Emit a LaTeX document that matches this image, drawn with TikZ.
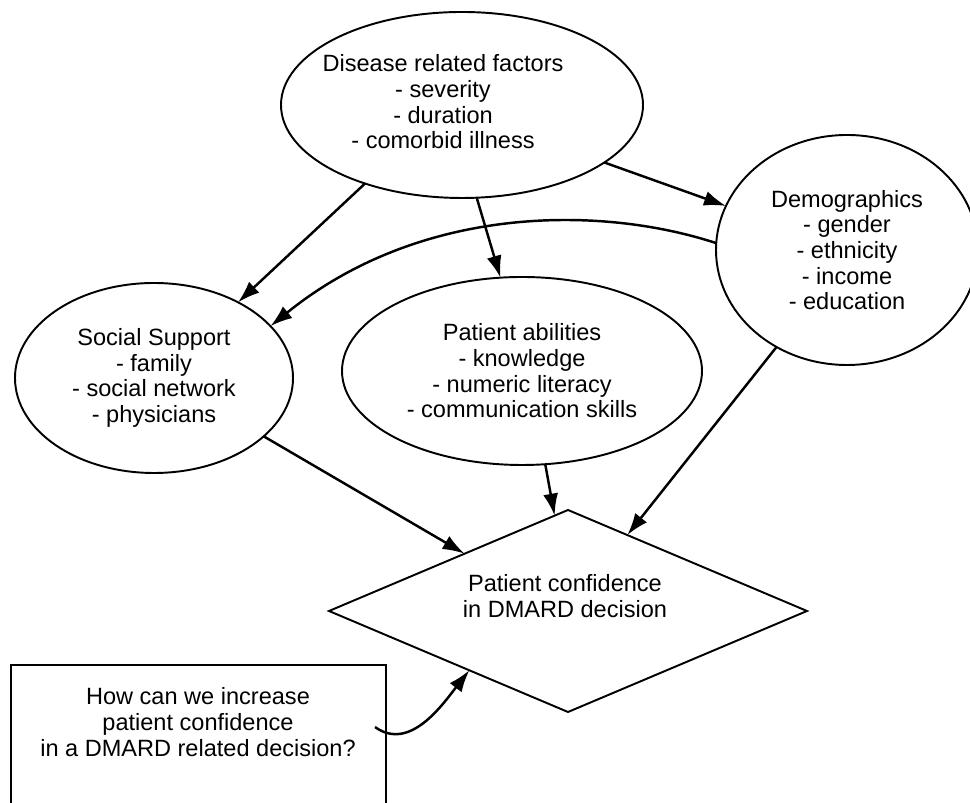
\documentclass[tikz,border=0pt]{standalone}
\usepackage{fontspec}
\setmainfont{Liberation Sans}
\usetikzlibrary{shapes.geometric,arrows.meta}

\begin{document}
\begin{tikzpicture}[
    every node/.style={font=\fontsize{6.7}{7.3}\selectfont, align=center, inner sep=0pt, outer sep=0pt},
    factor/.style={ellipse, draw, line width=0.55pt},
    conn/.style={-{Latex[length=2.2mm,width=1.5mm]}, line width=0.7pt}
  ]
    \useasboundingbox (0,0) rectangle (9.70,8.03);
    \clip (0,0) rectangle (9.70,8.03);

    % Factors
    \node[factor, minimum width=3.62cm, minimum height=1.86cm,
        label={[xshift=-0.19cm, yshift=0.03cm]center:{Disease related factors\\- severity\\- duration\\- comorbid illness}}]
        (dis) at (4.62,6.98) {};
    \node[factor, minimum width=2.62cm, minimum height=2.30cm] (demo) at (8.47,5.53)
        {Demographics\\- gender\\- ethnicity\\- income\\- education};
    \node[factor, minimum width=2.78cm, minimum height=1.90cm] (soc) at (1.54,4.25)
        {Social Support\\- family\\- social network\\- physicians};
    \node[factor, minimum width=3.60cm, minimum height=1.88cm] (pa) at (5.22,4.32)
        {Patient abilities\\- knowledge\\- numeric literacy\\- communication skills};

    % Outcome
    \node[diamond, draw, line width=0.55pt, minimum width=4.78cm, minimum height=2.02cm,
        label={[xshift=-0.03cm, yshift=0.15cm]center:{Patient confidence\\in DMARD decision}}]
        (conf) at (5.68,1.92) {};

    % Question box
    \node[draw, line width=0.55pt, minimum width=3.75cm, minimum height=1.50cm] (q) at (1.985,0.63) {};
    \node[anchor=north, font=\fontsize{6.7}{7.5}\selectfont] (qtxt) at (1.98,1.16)
        {How can we increase\\patient confidence\\in a DMARD related decision?};
    \coordinate (qs) at (3.75,0.76);

    % Connectors
    \draw[conn] (dis.219) -- (soc.42);
    \draw[conn] (dis.279) -- (pa.103);
    \draw[conn] (dis.-22) -- (demo.160);
    \draw[conn] (demo.177) .. controls (6.00,5.98) and (4.20,5.98) .. (soc.24);
    \draw[conn] (soc.-28) -- (conf.151);
    \draw[conn] (pa.-76) -- (conf.98);
    \draw[conn] (demo.234) -- (conf.52);
    \draw[conn] (qs) to[out=-36,in=232] (conf.211);
\end{tikzpicture}
\end{document}
